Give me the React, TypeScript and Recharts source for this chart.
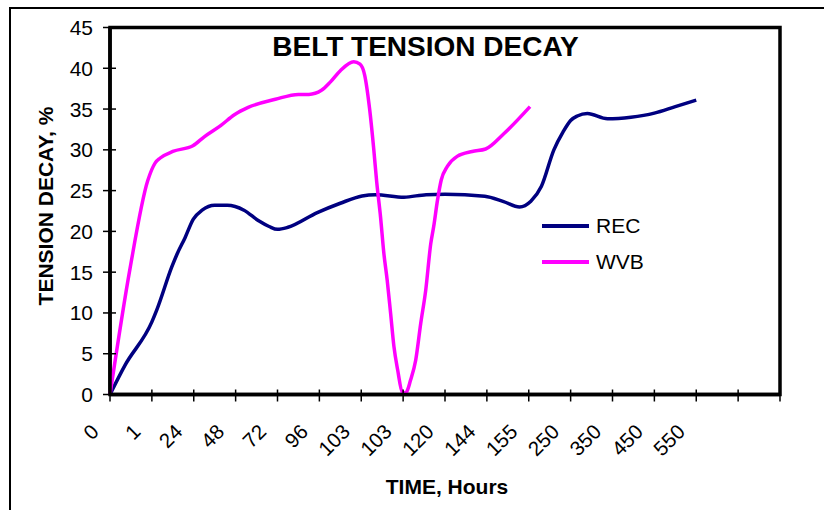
import React from "react";
import { LineChart, Line, XAxis, YAxis, ReferenceArea, Legend } from "recharts";

const FONT = "'Liberation Sans', Arial, sans-serif";

// category labels on the time axis (last two ticks carry no label)
const TICK_LABELS = ["0", "1", "24", "48", "72", "96", "103", "103", "120", "144", "155", "250", "350", "450", "550", "", ""];
const X_TICKS = TICK_LABELS.map((_, i) => i);
const Y_TICKS = [0, 5, 10, 15, 20, 25, 30, 35, 40, 45];

// positions are in category-slot units along the axis
const REC_POS = [0, 0.36, 1.0, 1.12, 1.48, 1.6, 1.79, 1.99, 2.2, 2.5, 2.8, 3.2, 3.55, 3.8, 4.0, 4.25, 4.95, 5.5, 6.02, 6.34, 7.02, 7.55, 8.0, 8.95, 9.4, 9.78, 10.05, 10.3, 10.6, 10.82, 11.0, 11.16, 11.4, 11.88, 12.44, 13.0, 13.5, 14.0];
const REC_VAL = [0, 3.6, 8.9, 10.4, 15.7, 17.2, 19.2, 21.5, 22.6, 23.2, 23.2, 22.6, 21.3, 20.6, 20.25, 20.5, 22.3, 23.45, 24.35, 24.5, 24.2, 24.5, 24.55, 24.3, 23.65, 23.0, 23.7, 25.5, 30.0, 32.2, 33.6, 34.15, 34.45, 33.8, 34.0, 34.5, 35.3, 36.1];

const WVB_POS = [0, 0.48, 0.9, 1.08, 1.2, 1.5, 1.98, 2.25, 2.65, 2.97, 3.3, 3.95, 4.5, 4.75, 5.05, 5.26, 5.5, 5.82, 5.97, 6.08, 6.2, 6.3, 6.37, 6.46, 6.54, 6.62, 6.7, 6.78, 6.87, 6.98, 7.06, 7.18, 7.3, 7.42, 7.54, 7.66, 7.73, 7.82, 7.91, 8.06, 8.29, 8.65, 8.97, 9.41, 10.03];
const WVB_VAL = [0, 15.5, 26.2, 28.4, 29.0, 29.8, 30.5, 31.6, 33.0, 34.3, 35.2, 36.2, 36.8, 36.8, 37.3, 38.3, 39.7, 40.8, 40.5, 39.2, 35.0, 30.0, 26.0, 21.8, 17.3, 14.0, 10.0, 5.9, 3.0, 0.3, 0.2, 1.8, 4.2, 8.7, 12.8, 18.5, 20.6, 23.8, 26.3, 28.0, 29.2, 29.8, 30.1, 32.0, 35.3];

const toPoints = (pos: number[], val: number[]) => pos.map((x, i) => ({ x, value: val[i] }));
const recData = toPoints(REC_POS, REC_VAL);
const wvbData = toPoints(WVB_POS, WVB_VAL);

function XTick(props: any) {
  const { x, y, payload } = props;
  const label = TICK_LABELS[payload.value] ?? "";
  const axisY = y - 9;
  const ax = x - 10;
  const ay = y + 29.5;
  return (
    <g>
      <line x1={x} y1={axisY - 5} x2={x} y2={axisY} stroke="#000" strokeWidth={1.5} />
      <text x={ax} y={ay} transform={`rotate(-45 ${ax} ${ay})`} textAnchor="end" fontSize={20.5} fontFamily={FONT} fill="#000">
        {label}
      </text>
    </g>
  );
}

function YTick(props: any) {
  const { x, y, payload } = props;
  const axisX = x + 17;
  return (
    <g>
      <line x1={axisX} y1={y} x2={axisX + 6} y2={y} stroke="#000" strokeWidth={1.5} />
      <text x={x} y={y} dy="0.355em" textAnchor="end" fontSize={21} fontFamily={FONT} fill="#000">
        {payload.value}
      </text>
    </g>
  );
}

function LegendBox(props: any) {
  const { payload } = props;
  return (
    <div style={{ fontFamily: FONT, fontSize: 21, color: "#000" }}>
      {(payload || []).map((entry: any) => (
        <div key={entry.value} style={{ display: "flex", alignItems: "center", height: 35.7 }}>
          <svg width={54} height={10}>
            <line x1={0} y1={5} x2={47} y2={5} stroke={entry.color} strokeWidth={4} />
          </svg>
          <span>{entry.value}</span>
        </div>
      ))}
    </div>
  );
}

export default function App() {
  return (
    <div style={{ position: "absolute", left: 0, top: 0, width: 824, height: 510, overflow: "hidden", background: "#fff" }}>
      <div style={{ position: "absolute", left: 9, top: 7, width: 900, height: 600, border: "2px solid #000" }} />
      <LineChart width={824} height={510} data={recData} margin={{ top: 27.5, right: 44, bottom: 55.5, left: 10 }}>
        <ReferenceArea x1={0} x2={16} y1={0} y2={45} fill="none" stroke="#000" strokeWidth={3.5} />
        <XAxis
          dataKey="x"
          type="number"
          domain={[0, 16]}
          ticks={X_TICKS}
          interval={0}
          height={60}
          tickSize={7}
          tick={<XTick />}
          tickLine={{ stroke: "#000", strokeWidth: 1.5 }}
          axisLine={{ stroke: "#000", strokeWidth: 3.5 }}
        />
        <YAxis
          type="number"
          domain={[0, 45]}
          ticks={Y_TICKS}
          interval={0}
          width={100}
          tickSize={7}
          tickMargin={10}
          tick={<YTick />}
          tickLine={{ stroke: "#000", strokeWidth: 1.5 }}
          axisLine={{ stroke: "#000", strokeWidth: 3.5 }}
        />
        <Legend
          layout="vertical"
          align="center"
          verticalAlign="middle"
          content={<LegendBox />}
          wrapperStyle={{ left: 542, top: 208, width: 150, height: 72 }}
        />
        <Line data={recData} dataKey="value" name="REC" type="monotone" stroke="#000080" strokeWidth={3.5} dot={false} isAnimationActive={false} />
        <Line data={wvbData} dataKey="value" name="WVB" type="monotone" stroke="#FF00FF" strokeWidth={3.5} dot={false} isAnimationActive={false} />
      </LineChart>
      <svg width={824} height={510} style={{ position: "absolute", left: 0, top: 0, pointerEvents: "none" }}>
        <text x={425.5} y={56} textAnchor="middle" fontSize={28} fontWeight="bold" fontFamily={FONT} fill="#000">
          BELT TENSION DECAY
        </text>
        <text x={447} y={494} textAnchor="middle" fontSize={21} fontWeight="bold" fontFamily={FONT} fill="#000">
          TIME, Hours
        </text>
        <text x={53} y={206} transform="rotate(-90 53 206)" textAnchor="middle" fontSize={21} fontWeight="bold" fontFamily={FONT} fill="#000">
          TENSION DECAY, %
        </text>
      </svg>
    </div>
  );
}
